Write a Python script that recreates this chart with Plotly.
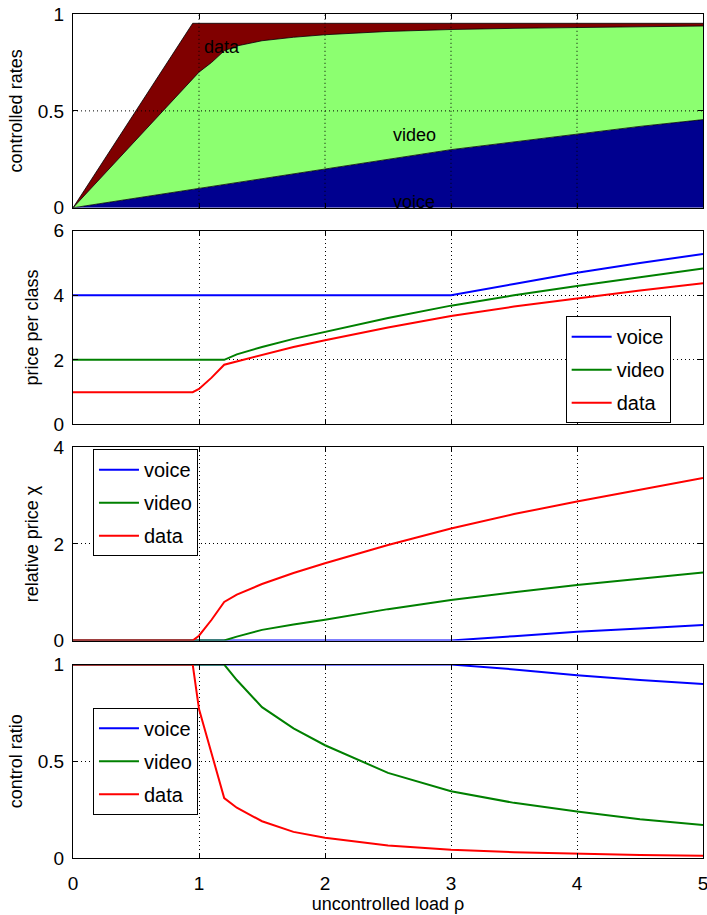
import plotly.graph_objects as go
from plotly.subplots import make_subplots

# ---------------- data ----------------
rho = [0, 0.5, 0.95, 1.0, 1.1, 1.2, 1.3, 1.5, 1.75, 2.0, 2.5, 3.0, 3.5, 4.0, 4.5, 5.0]

# panel 1: controlled rates (stacked areas)
rate_voice = [0, 0.05, 0.095, 0.10, 0.11, 0.12, 0.13, 0.15, 0.175, 0.20, 0.25, 0.30, 0.34, 0.38, 0.42, 0.455]
rate_video = [0, 0.30, 0.57, 0.60, 0.64, 0.69, 0.705, 0.712, 0.705, 0.693, 0.66, 0.62, 0.586, 0.551, 0.515, 0.483]
rate_data = [0, 0.15, 0.287, 0.252, 0.202, 0.142, 0.117, 0.09, 0.072, 0.059, 0.042, 0.032, 0.026, 0.021, 0.017, 0.014]

# panel 2: price per class
price_voice = [4, 4, 4, 4, 4, 4, 4, 4, 4, 4, 4, 4, 4.35, 4.70, 5.0, 5.28]
price_video = [2, 2, 2, 2, 2, 2, 2.17, 2.40, 2.65, 2.87, 3.30, 3.68, 4.0, 4.29, 4.57, 4.83]
price_data = [1, 1, 1, 1.1, 1.45, 1.85, 1.95, 2.15, 2.40, 2.61, 3.0, 3.36, 3.65, 3.90, 4.15, 4.37]

# panel 3: relative price chi
chi_voice = [0, 0, 0, 0, 0, 0, 0, 0, 0, 0, 0, 0, 0.09, 0.18, 0.25, 0.32]
chi_video = [0, 0, 0, 0, 0, 0, 0.08, 0.22, 0.33, 0.43, 0.65, 0.84, 1.0, 1.15, 1.28, 1.41]
chi_data = [0, 0, 0, 0.1, 0.43, 0.80, 0.95, 1.17, 1.40, 1.60, 1.98, 2.32, 2.62, 2.88, 3.13, 3.37]

# panel 4: control ratio
ratio_voice = [1, 1, 1, 1, 1, 1, 1, 1, 1, 1, 1, 1, 0.975, 0.945, 0.92, 0.90]
ratio_video = [1, 1, 1, 1, 1, 1, 0.92, 0.78, 0.67, 0.583, 0.44, 0.345, 0.285, 0.24, 0.20, 0.17]
ratio_data = [1, 1, 1, 0.77, 0.54, 0.31, 0.26, 0.19, 0.135, 0.105, 0.065, 0.043, 0.03, 0.022, 0.016, 0.012]

classes = ["voice", "video", "data"]
line_colors = ["#0000FF", "#008000", "#FF0000"]
area_colors = ["#00008F", "#8CFF70", "#800000"]

x_ticks = [0, 1, 2, 3, 4, 5]
y_ticks = [[0, 0.5, 1], [0, 2, 4, 6], [0, 2, 4], [0, 0.5, 1]]
y_ranges = [[0, 1], [0, 6], [0, 4], [0, 1]]
y_titles = ["controlled rates", "price per class", "relative price \u03c7", "control ratio"]
x_title = "uncontrolled load \u03c1"

area_labels = ["voice", "video", "data"]
area_label_x = [2.71, 2.71, 1.18]
area_label_y = [0.03, 0.375, 0.83]

FONT = "Liberation Sans, Arial, Helvetica, sans-serif"
TICKFONT = dict(family=FONT, size=19, color="black")

fig = make_subplots(rows=4, cols=1)

# panel 1
for name, vals, col in zip(classes, [rate_voice, rate_video, rate_data], area_colors):
    fig.add_trace(go.Scatter(x=rho, y=vals, stackgroup="one", mode="lines",
                             line=dict(color="black", width=0.8), fillcolor=col,
                             name=name, showlegend=False), row=1, col=1)

series_sets = [
    ([price_voice, price_video, price_data], 2, "legend"),
    ([chi_voice, chi_video, chi_data], 3, "legend2"),
    ([ratio_voice, ratio_video, ratio_data], 4, "legend3"),
]
for sets, r, lg in series_sets:
    for i, (name, vals, col) in enumerate(zip(classes, sets, line_colors)):
        fig.add_trace(go.Scatter(x=rho, y=vals, mode="lines", name=name,
                                 line=dict(color=col, width=2),
                                 legend=lg, legendgroup=f"{lg}_{name}"), row=r, col=1)

domains = [[0.7704, 1.0], [0.5137, 0.7432], [0.2577, 0.4864], [0.0, 0.2292]]
for r in range(1, 5):
    fig.update_xaxes(range=[0, 5], tickvals=x_ticks, showticklabels=(r == 4),
                     showline=True, linecolor="black", linewidth=1, mirror="ticks",
                     ticks="inside", ticklen=5, tickcolor="black",
                     showgrid=(r != 1), gridcolor="black", gridwidth=1, griddash="1px,3px",
                     zeroline=False, tickfont=TICKFONT, ticklabelstandoff=8,
                     ticklabeloverflow="allow", automargin=False,
                     row=r, col=1)
    fig.update_yaxes(range=y_ranges[r - 1], tickvals=y_ticks[r - 1], domain=domains[r - 1],
                     showline=True, linecolor="black", linewidth=1, mirror="ticks",
                     ticks="inside", ticklen=5, tickcolor="black",
                     showgrid=(r != 1), gridcolor="black", gridwidth=1, griddash="1px,3px",
                     zeroline=False, tickfont=TICKFONT, ticklabelstandoff=4,
                     ticklabeloverflow="allow", automargin=False,
                     title=dict(text=y_titles[r - 1], font=dict(family=FONT, size=18, color="black"),
                                standoff=10),
                     row=r, col=1)
fig.update_xaxes(title=dict(text=x_title, font=dict(family=FONT, size=18, color="black"), standoff=4),
                 row=4, col=1)

# grid of the top panel drawn above the filled areas
shapes = []
for xv in x_ticks[1:-1]:
    shapes.append(dict(type="line", xref="x", yref="y domain", x0=xv, x1=xv, y0=0, y1=1,
                       line=dict(color="black", width=1, dash="1px,3px"), layer="above"))
for yv in y_ticks[0][1:-1]:
    shapes.append(dict(type="line", xref="x domain", yref="y", x0=0, x1=1, y0=yv, y1=yv,
                       line=dict(color="black", width=1, dash="1px,3px"), layer="above"))
fig.update_layout(shapes=shapes)

for t, xv, yv in zip(area_labels, area_label_x, area_label_y):
    fig.add_annotation(x=xv, y=yv, xref="x", yref="y", text=t, showarrow=False,
                       font=dict(family=FONT, size=18, color="black"))

legend_style = dict(bgcolor="white", bordercolor="black", borderwidth=1,
                    font=dict(family=FONT, size=20, color="black"),
                    xanchor="left", yanchor="top", tracegroupgap=4, itemwidth=40)
fig.update_layout(
    width=707, height=915,
    margin=dict(l=73, r=4, t=14, b=57),
    paper_bgcolor="white", plot_bgcolor="white",
    font=dict(family=FONT, size=17, color="black"),
    legend=dict(x=0.782, y=0.642, **legend_style),
    legend2=dict(x=0.0317, y=0.4844, **legend_style),
    legend3=dict(x=0.0317, y=0.178, **legend_style),
)

fig.write_html("out.html")
